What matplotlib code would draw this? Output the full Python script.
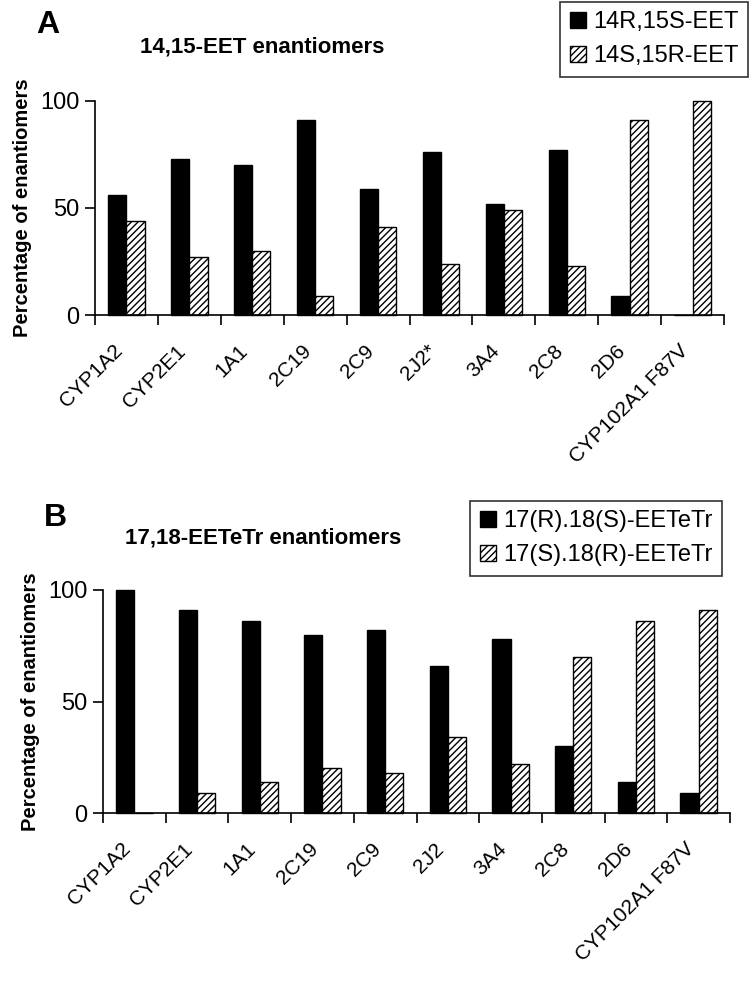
import numpy as np
import matplotlib
matplotlib.use("Agg")
import matplotlib.pyplot as plt
from matplotlib.patches import Patch

plt.rcParams['hatch.linewidth'] = 1.0

FONT = ['Liberation Sans', 'DejaVu Sans']

# data
cats_a = ['CYP1A2', 'CYP2E1', '1A1', '2C19', '2C9', '2J2*', '3A4', '2C8', '2D6', 'CYP102A1 F87V']
eet_rs = [56, 73, 70, 91, 59, 76, 52, 77, 9, 0]
eet_sr = [44, 27, 30, 9, 41, 24, 49, 23, 91, 100]

cats_b = ['CYP1A2', 'CYP2E1', '1A1', '2C19', '2C9', '2J2', '3A4', '2C8', '2D6', 'CYP102A1 F87V']
eetetr_rs = [100, 91, 86, 80, 82, 66, 78, 30, 14, 9]
eetetr_sr = [0, 9, 14, 20, 18, 34, 22, 70, 86, 91]

W, H = 749, 985
fig = plt.figure(figsize=(W / 100, H / 100), dpi=100)


def panel(rect, cats, v1, v2, letter, title, lab1, lab2, letter_xy, title_xy, leg_anchor):
    ax = fig.add_axes(rect)
    x = np.arange(len(cats))
    bw = 0.29
    ax.bar(x - bw / 2, v1, bw, color='black', edgecolor='black', linewidth=1, clip_on=False)
    ax.bar(x + bw / 2, v2, bw, color='white', edgecolor='black', linewidth=1, hatch='/////', clip_on=False)
    ax.set_xlim(-0.5, len(cats) - 0.5)
    ax.set_ylim(0, 100)
    ax.set_yticks([0, 50, 100])
    ax.set_yticklabels(['0', '50', '100'], family=FONT, fontsize=17)
    ax.set_xticks(np.arange(len(cats) + 1) - 0.5)
    ax.set_xticklabels([])
    for s in ['top', 'right']:
        ax.spines[s].set_visible(False)
    for s in ['left', 'bottom']:
        ax.spines[s].set_linewidth(1.2)
    ax.tick_params(axis='both', direction='out', length=7, width=1.2, pad=4)
    # rotated category labels, right end just left of the group centre
    for i, c in enumerate(cats):
        ax.annotate(c, xy=(i - 0.22, 0), xycoords='data', xytext=(0, -19), textcoords='offset points',
                    ha='right', va='top', rotation=45, rotation_mode='anchor',
                    family=FONT, fontsize=15, annotation_clip=False)
    ax.set_ylabel('Percentage of enantiomers', family=FONT, fontweight='bold', fontsize=14.5, labelpad=6)
    fig.text(letter_xy[0] / W, 1 - letter_xy[1] / H, letter, family=FONT, fontweight='bold', fontsize=23,
             ha='left', va='center')
    fig.text(title_xy[0] / W, 1 - title_xy[1] / H, title, family=FONT, fontweight='bold', fontsize=16,
             ha='left', va='center')
    handles = [Patch(facecolor='black', edgecolor='black', label=lab1),
               Patch(facecolor='white', edgecolor='black', hatch='/////', label=lab2)]
    leg = fig.legend(handles=handles, loc='upper right', bbox_to_anchor=(leg_anchor[0] / W, 1 - leg_anchor[1] / H),
                     prop={'family': FONT, 'size': 17}, frameon=True, fancybox=False, edgecolor='black',
                     handlelength=0.7, handleheight=0.7, handletextpad=0.3, borderpad=0.4, labelspacing=0.5,
                     borderaxespad=0)
    leg.get_frame().set_linewidth(1.2)
    return ax


panel([95 / W, 1 - 315 / H, 629 / W, 214 / H], cats_a, eet_rs, eet_sr, 'A', '14,15-EET enantiomers',
      '14R,15S-EET', '14S,15R-EET', (36, 25), (140, 47), (748, 2))
panel([103 / W, 1 - 813 / H, 627 / W, 223 / H], cats_b, eetetr_rs, eetetr_sr, 'B', '17,18-EETeTr enantiomers',
      '17(R).18(S)-EETeTr', '17(S).18(R)-EETeTr', (44, 518), (125, 538), (722, 501))

fig.savefig('out.png', dpi=100)
